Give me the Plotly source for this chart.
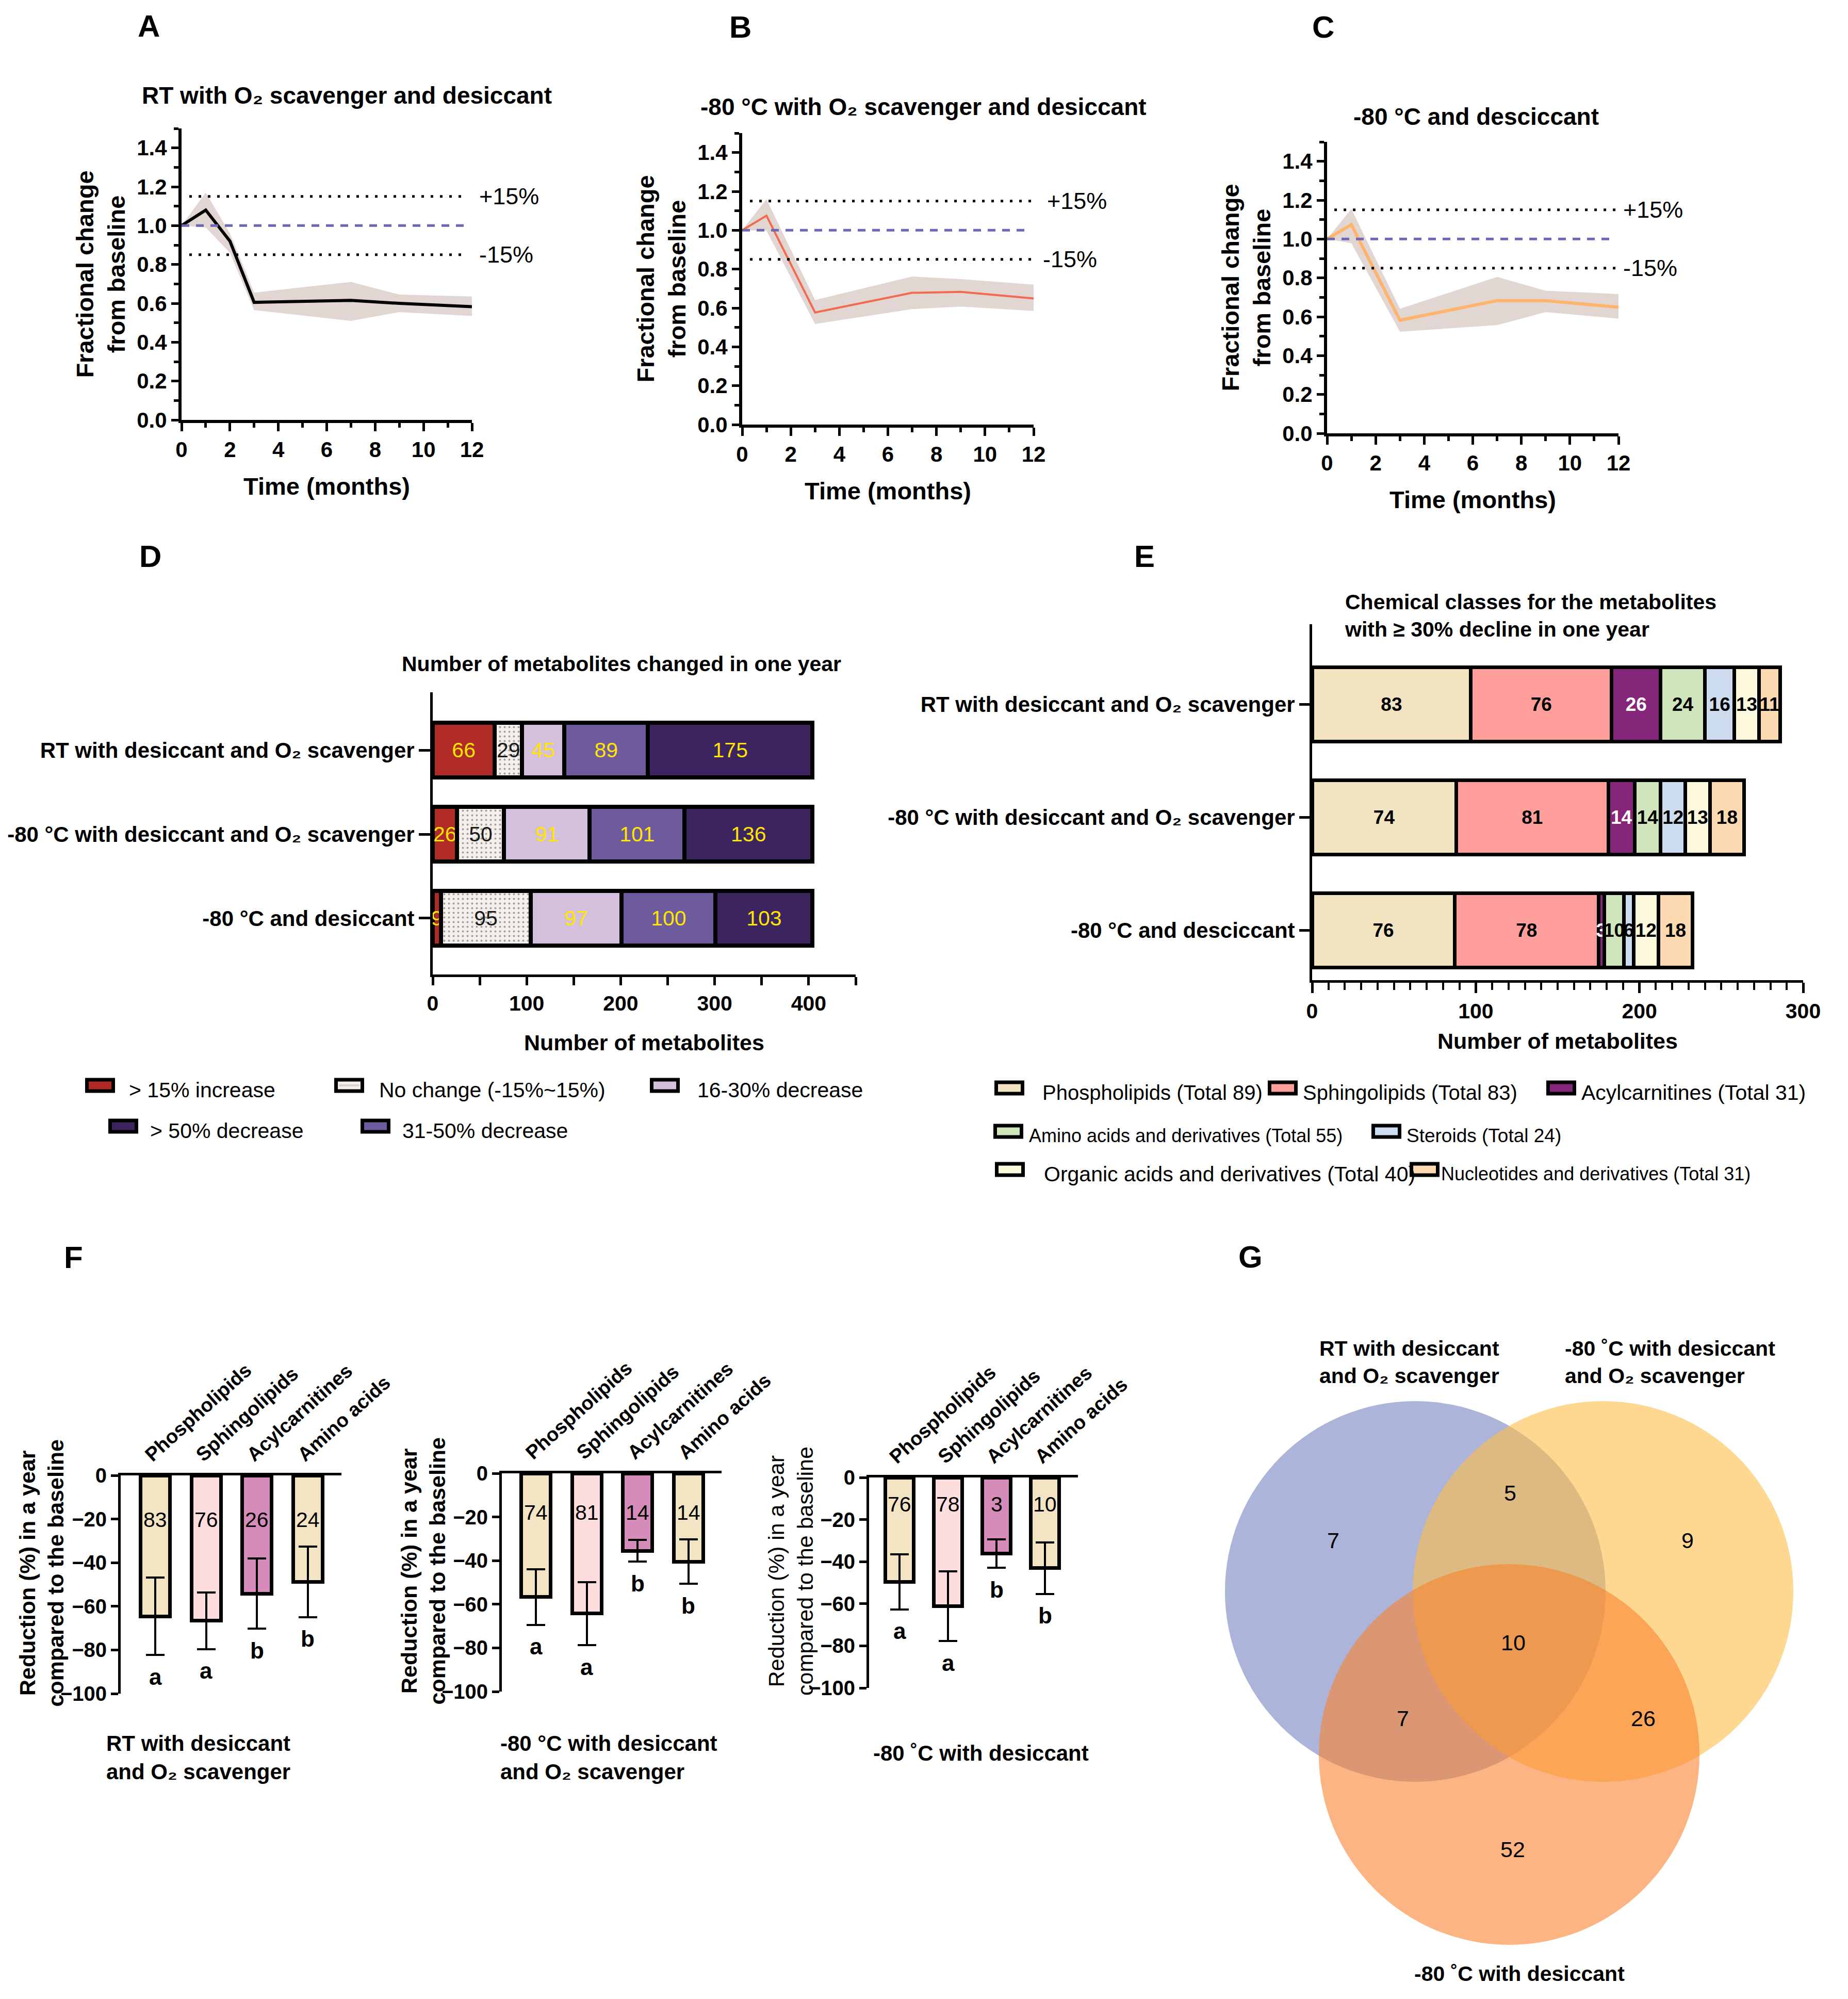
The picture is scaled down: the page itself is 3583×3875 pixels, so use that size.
import plotly.graph_objects as go

W, H = 3583, 3875
def X(px): return px / W
def Y(py): return 1 - py / H

SANS = "Liberation Sans, Arial, sans-serif"
def fnt(size, bold=False, color="black"):
    return dict(family=SANS, size=size, color=color, weight="bold" if bold else "normal")

# ---------------- A-C : fractional change from baseline ----------------
months_a = [0, 1, 2, 3, 7, 9, 12]
mean_a  = [1.00, 1.08, 0.92, 0.605, 0.615, 0.600, 0.583]
upper_a = [1.00, 1.17, 0.96, 0.655, 0.710, 0.645, 0.635]
lower_a = [1.00, 0.99, 0.86, 0.565, 0.510, 0.555, 0.535]

months_bc = [0, 1, 3, 7, 9, 12]
mean_b  = [1.00, 1.075, 0.577, 0.678, 0.683, 0.649]
upper_b = [1.00, 1.160, 0.641, 0.762, 0.749, 0.720]
lower_b = [1.00, 0.998, 0.518, 0.594, 0.607, 0.585]
mean_c  = [1.00, 1.074, 0.582, 0.683, 0.683, 0.649]
upper_c = [1.00, 1.155, 0.641, 0.805, 0.734, 0.717]
lower_c = [1.00, 0.978, 0.523, 0.557, 0.624, 0.590]
limit_values = [1.15, 0.85]
limit_labels = ["+15%", "-15%"]
baseline = 1.0

# ---------------- D : number of metabolites changed ----------------
conditions_d = ["RT with desiccant and O₂ scavenger",
                "-80 °C with desiccant and O₂ scavenger",
                "-80 °C and desiccant"]
change_groups = ["> 15% increase", "No change (-15%~15%)", "16-30% decrease",
                 "31-50% decrease", "> 50% decrease"]
d_increase = [66, 26, 9]
d_nochange = [29, 50, 95]
d_dec16_30 = [45, 91, 97]
d_dec31_50 = [89, 101, 100]
d_dec50 = [175, 136, 103]

# ---------------- E : chemical classes (>=30% decline) ----------------
conditions_e = ["RT with desiccant and O₂ scavenger",
                "-80 °C with desiccant and O₂ scavenger",
                "-80 °C and desciccant"]
classes_e = ["Phospholipids", "Sphingolipids", "Acylcarnitines", "Amino acids and derivatives",
             "Steroids", "Organic acids and derivatives", "Nucleotides and derivatives"]
class_totals = [89, 83, 31, 55, 24, 40, 31]
# printed counts per segment
e_phospho_n = [83, 74, 76]
e_sphingo_n = [76, 81, 78]
e_acyl_n = [26, 14, 3]
e_amino_n = [24, 14, 10]
e_steroid_n = [16, 12, 6]
e_organic_n = [13, 13, 12]
e_nucleo_n = [11, 18, 18]
# segment lengths as drawn against the axis
e_phospho_len = [97, 88, 87]
e_sphingo_len = [86, 93, 88]
e_acyl_len = [30, 16, 3.5]
e_amino_len = [27, 16, 12]
e_steroid_len = [18, 15, 6]
e_organic_len = [15, 15, 15]
e_nucleo_len = [13, 21, 21]

# ---------------- F : reduction per class ----------------
f_classes = ["Phospholipids", "Sphingolipids", "Acylcarnitines", "Amino acids"]
f_rt_mean = [-64.6, -66.6, -54.2, -48.8]
f_rt_sd = [17.7, 13.0, 16.1, 16.2]
f_rt_n = [83, 76, 26, 24]
f_rt_grp = ["a", "a", "b", "b"]
f_o2_mean = [-56.7, -64.3, -35.5, -40.5]
f_o2_sd = [12.8, 14.5, 5.0, 10.2]
f_o2_n = [74, 81, 14, 14]
f_o2_grp = ["a", "a", "b", "b"]
f_des_mean = [-49.6, -61.2, -36.2, -43.1]
f_des_sd = [13.1, 16.5, 6.7, 12.2]
f_des_n = [76, 78, 3, 10]
f_des_grp = ["a", "a", "b", "b"]

# ---------------- G : Venn counts ----------------
venn_sets = ["RT with desiccant<br>and O₂ scavenger",
             "-80 ˚C with desiccant<br>and O₂ scavenger",
             "-80 ˚C with desiccant"]
venn_only_rt, venn_only_o2, venn_only_des = 7, 9, 52
venn_rt_o2, venn_rt_des, venn_o2_des, venn_all = 5, 7, 26, 10

fig = go.Figure()
annotations = []
shapes = []
layout = {}
legends = {}

# ======================= A, B, C =======================
abc = [
    dict(sfx="", months=months_a, mean=mean_a, up=upper_a, lo=lower_a, color="black", lw=6,
         xd=(352, 915), yd=(249, 814), title="RT with O₂ scavenger and desiccant",
         tpos=(672, 185), dot=(0.32, 11.67), blue=(0.0, 11.67), labx=(12.25, 12.25),
         letter="A", lpos=(288, 50)),
    dict(sfx="2", months=months_bc, mean=mean_b, up=upper_b, lo=lower_b, color="#F26A50", lw=4,
         xd=(1439, 2004), yd=(258, 823), title="-80 °C with O₂ scavenger and desiccant",
         tpos=(1790, 207), dot=(0.32, 11.92), blue=(0.0, 11.67), labx=(12.5, 12.35),
         letter="B", lpos=(1435, 52)),
    dict(sfx="3", months=months_bc, mean=mean_c, up=upper_c, lo=lower_c, color="#FFB36B", lw=6,
         xd=(2573, 3138), yd=(275, 840), title="-80 °C and desciccant",
         tpos=(2862, 226), dot=(0.30, 12.0), blue=(0.0, 11.67), labx=(12.15, 12.15),
         letter="C", lpos=(2565, 52)),
]
for p in abc:
    xa, ya = "x" + p["sfx"], "y" + p["sfx"]
    fig.add_trace(go.Scatter(x=p["months"], y=p["up"], mode="lines", line=dict(width=0),
                             xaxis=xa, yaxis=ya, showlegend=False, hoverinfo="skip"))
    fig.add_trace(go.Scatter(x=p["months"], y=p["lo"], mode="lines", line=dict(width=0),
                             fill="tonexty", fillcolor="#E2D6D3",
                             xaxis=xa, yaxis=ya, showlegend=False, hoverinfo="skip"))
    fig.add_trace(go.Scatter(x=p["months"], y=p["mean"], mode="lines",
                             line=dict(color=p["color"], width=p["lw"]), cliponaxis=False,
                             xaxis=xa, yaxis=ya, showlegend=False))
    x0p, x1p = p["xd"]
    for v, lab, lx in zip(limit_values, limit_labels, p["labx"]):
        shapes.append(dict(type="line", xref=xa, yref=ya, x0=p["dot"][0], x1=p["dot"][1], y0=v, y1=v,
                           line=dict(color="black", width=5, dash="5px,13px")))
        annotations.append(dict(xref="paper", yref=ya, x=X(x0p + lx / 12 * (x1p - x0p)), y=v,
                                text=lab, showarrow=False, xanchor="left", yanchor="middle",
                                font=fnt(45)))
    shapes.append(dict(type="line", xref=xa, yref=ya, x0=p["blue"][0], x1=p["blue"][1],
                       y0=baseline, y1=baseline, line=dict(color="#6B68B5", width=5, dash="15px,13px")))
    layout["xaxis" + p["sfx"]] = dict(
        domain=[X(x0p), X(x1p)], range=[0, 12], anchor=ya, dtick=2, automargin=False,
        showgrid=False, zeroline=False, showline=True, linecolor="black", linewidth=6,
        ticks="outside", ticklen=16, tickwidth=5, tickcolor="black",
        minor=dict(dtick=1, ticks="outside", ticklen=9, tickwidth=5, tickcolor="black"),
        tickfont=fnt(42, True),
        title=dict(text="Time (months)", font=fnt(47, True), standoff=34))
    layout["yaxis" + p["sfx"]] = dict(
        domain=[Y(p["yd"][1]), Y(p["yd"][0])], range=[0, 1.5], anchor=xa, dtick=0.2,
        automargin=False, tickformat=".1f", showgrid=False, zeroline=False, showline=True,
        linecolor="black", linewidth=6, ticks="outside", ticklen=14, tickwidth=5, tickcolor="black",
        minor=dict(dtick=0.1, ticks="outside", ticklen=9, tickwidth=5, tickcolor="black"),
        tickfont=fnt(42, True),
        title=dict(text="Fractional change<br>from baseline", font=fnt(47, True), standoff=10))
    annotations.append(dict(xref="paper", yref="paper", x=X(p["tpos"][0]), y=Y(p["tpos"][1]),
                            text=p["title"], showarrow=False, font=fnt(46, True),
                            xanchor="center", yanchor="middle"))
    annotations.append(dict(xref="paper", yref="paper", x=X(p["lpos"][0]), y=Y(p["lpos"][1]),
                            text=p["letter"], showarrow=False, font=fnt(60, True),
                            xanchor="center", yanchor="middle"))

# ======================= legends helper =======================
leg_count = [0]
def add_legend_entry(name, group, col, text_px, text_py, swatch_cx, size=41, pattern=False):
    """Legend text is a real plotly legend; the swatch is drawn as a rectangle beside it."""
    leg_count[0] += 1
    key = "legend" if leg_count[0] == 1 else "legend%d" % leg_count[0]
    legends[key] = dict(x=X(text_px - 37), y=Y(text_py + 7), xref="paper", yref="paper",
                        xanchor="left", yanchor="middle", orientation="h",
                        bgcolor="rgba(0,0,0,0)", borderwidth=0, font=fnt(size), itemwidth=30)
    fig.add_trace(go.Scatter(x=[None], y=[None], mode="markers", name=name, legendgroup=group,
                             marker=dict(size=1, color="rgba(0,0,0,0)"), legend=key,
                             xaxis="x4", yaxis="y4", hoverinfo="skip"))
    sw, sh = 51, 22
    shapes.append(dict(type="rect", xref="paper", yref="paper",
                       x0=X(swatch_cx - sw / 2), x1=X(swatch_cx + sw / 2),
                       y0=Y(text_py + sh / 2), y1=Y(text_py - sh / 2),
                       fillcolor=col, line=dict(color="black", width=7), layer="above"))
    if pattern:
        shapes.append(dict(type="rect", xref="paper", yref="paper",
                           x0=X(swatch_cx - sw / 2 + 6), x1=X(swatch_cx + sw / 2 - 6),
                           y0=Y(text_py + 2), y1=Y(text_py - 2),
                           fillcolor="#D9D2CF", line=dict(width=0), layer="above"))

# ======================= D =======================
d_series = [
    (change_groups[0], d_increase, "#B02A26", "#FFE500", (247, 2104, 194)),
    (change_groups[1], d_nochange, "#F3EFEC", "#1a1a1a", (732, 2104, 677)),
    (change_groups[2], d_dec16_30, "#D4BFDD", "#FFE500", (1349, 2104, 1289)),
    (change_groups[3], d_dec31_50, "#6D5B9E", "#FFE500", (777, 2183, 728)),
    (change_groups[4], d_dec50, "#3C2460", "#FFE500", (288, 2183, 239)),
]
for name, vals, col, tcol, lpos in d_series:
    marker = dict(color=col, line=dict(color="black", width=8))
    is_nc = name.startswith("No change")
    if is_nc:
        marker["pattern"] = dict(shape=".", fgcolor="#A59C98", bgcolor=col, size=9, solidity=0.15)
    fig.add_trace(go.Bar(x=vals, y=conditions_d, orientation="h", name=name, marker=marker,
                         width=0.65, text=[str(v) for v in vals], textposition="inside",
                         insidetextanchor="middle", textangle=0, constraintext="none",
                         textfont=fnt(41, False, tcol), cliponaxis=False, legendgroup=name,
                         showlegend=False, xaxis="x4", yaxis="y4"))
    add_legend_entry(name, name, col, lpos[0], lpos[1], lpos[2], 41, pattern=is_nc)
layout["xaxis4"] = dict(domain=[X(839), X(1659)], range=[0, 450], anchor="y4", automargin=False,
                        tickvals=[0, 100, 200, 300, 400], showgrid=False, zeroline=False,
                        showline=True, linecolor="black", linewidth=5, ticks="outside",
                        ticklen=16, tickwidth=5, tickcolor="black",
                        minor=dict(dtick=50, ticks="outside", ticklen=16, tickwidth=5, tickcolor="black"),
                        tickfont=fnt(41, True),
                        title=dict(text="Number of metabolites", font=fnt(43, True), standoff=40))
layout["yaxis4"] = dict(domain=[Y(1889), Y(1342)], type="category", categoryorder="array",
                        categoryarray=conditions_d[::-1], range=[-0.67, 2.69], anchor="x4",
                        automargin=False, showgrid=False, zeroline=False, showline=True,
                        linecolor="black", linewidth=5, ticks="outside", ticklen=22, tickwidth=5,
                        tickcolor="black", tickfont=fnt(42, True))
annotations.append(dict(xref="paper", yref="paper", x=X(1205), y=Y(1287),
                        text="Number of metabolites changed in one year", showarrow=False,
                        font=fnt(41, True), xanchor="center", yanchor="middle"))
annotations.append(dict(xref="paper", yref="paper", x=X(291), y=Y(1078), text="D",
                        showarrow=False, font=fnt(60, True), xanchor="center", yanchor="middle"))

# ======================= E =======================
e_series = [
    (e_phospho_len, e_phospho_n, "#F2E3C1", "black", (2018, 2109, 1957), 40),
    (e_sphingo_len, e_sphingo_n, "#FF9E9B", "black", (2523, 2109, 2487), 40),
    (e_acyl_len, e_acyl_n, "#86267A", "white", (3063, 2109, 3027), 41),
    (e_amino_len, e_amino_n, "#CFE6BC", "black", (1992, 2193, 1955), 36),
    (e_steroid_len, e_steroid_n, "#CDDCEE", "black", (2724, 2193, 2688), 37),
    (e_organic_len, e_organic_n, "#FCF9DC", "black", (2021, 2267, 1958), 41),
    (e_nucleo_len, e_nucleo_n, "#FDD9B2", "black", (2791, 2267, 2762), 36),
]
for (lens, counts, col, tcol, lpos, lsize), cname, tot in zip(e_series, classes_e, class_totals):
    lname = "%s (Total %d)" % (cname, tot)
    fig.add_trace(go.Bar(x=lens, y=conditions_e, orientation="h", name=lname,
                         marker=dict(color=col, line=dict(color="black", width=7)),
                         width=0.66, text=[str(c) for c in counts], textposition="inside",
                         insidetextanchor="middle", textangle=0, constraintext="none",
                         textfont=fnt(37, True, tcol), cliponaxis=False, legendgroup=lname,
                         showlegend=False, xaxis="x5", yaxis="y5"))
    add_legend_entry(lname, lname, col, lpos[0], lpos[1], lpos[2], lsize)
layout["xaxis5"] = dict(domain=[X(2544), X(3496)], range=[0, 300], anchor="y5", dtick=100,
                        automargin=False, showgrid=False, zeroline=False, showline=True,
                        linecolor="black", linewidth=5, ticks="outside", ticklen=20, tickwidth=5,
                        tickcolor="black",
                        minor=dict(dtick=10, ticks="outside", ticklen=14, tickwidth=4, tickcolor="black"),
                        tickfont=fnt(41, True),
                        title=dict(text="Number of metabolites", font=fnt(43, True), standoff=22))
layout["yaxis5"] = dict(domain=[Y(1900), Y(1210)], type="category", categoryorder="array",
                        categoryarray=conditions_e[::-1], range=[-0.44, 2.71], anchor="x5",
                        automargin=False, showgrid=False, zeroline=False, showline=True,
                        linecolor="black", linewidth=5, ticks="outside", ticklen=20, tickwidth=5,
                        tickcolor="black", tickfont=fnt(42, True))
annotations.append(dict(xref="paper", yref="paper", x=X(2605), y=Y(1193),
                        text="Chemical classes for the metabolites<br>with ≥ 30% decline in one year",
                        showarrow=False, font=fnt(41, True), xanchor="left", yanchor="middle",
                        align="left"))
annotations.append(dict(xref="paper", yref="paper", x=X(2219), y=Y(1078), text="E",
                        showarrow=False, font=fnt(60, True), xanchor="center", yanchor="middle"))

# ======================= F =======================
f_colors = ["#F3E5C3", "#FDDDDE", "#D68CBB", "#F3E5C3"]
f_panels = [
    dict(sfx="6", mean=f_rt_mean, sd=f_rt_sd, n=f_rt_n, grp=f_rt_grp, xd=(234, 662),
         yd=(2860, 3283), xr=[-0.68, 3.66], nshift=-86, bold_title=True, ytx=80,
         sub="RT with desiccant<br>and O₂ scavenger", subpos=(204, 3407), subanchor="left"),
    dict(sfx="7", mean=f_o2_mean, sd=f_o2_sd, n=f_o2_n, grp=f_o2_grp, xd=(973, 1399),
         yd=(2856, 3279), xr=[-0.67, 3.65], nshift=-76, bold_title=True, ytx=820,
         sub="-80 °C with desiccant<br>and O₂ scavenger", subpos=(968, 3407), subanchor="left"),
    dict(sfx="8", mean=f_des_mean, sd=f_des_sd, n=f_des_n, grp=f_des_grp, xd=(1685, 2090),
         yd=(2864, 3272), xr=[-0.63, 3.68], nshift=-52, bold_title=False, ytx=1533,
         sub="-80 ˚C with desiccant", subpos=(1902, 3398), subanchor="center"),
]
for p in f_panels:
    xa, ya = "x" + p["sfx"], "y" + p["sfx"]
    fig.add_trace(go.Bar(x=f_classes, y=p["mean"], width=0.58,
                         marker=dict(color=f_colors, line=dict(color="black", width=7)),
                         error_y=dict(type="data", array=p["sd"], color="black", thickness=4, width=18),
                         xaxis=xa, yaxis=ya, showlegend=False))
    for i, (m, s, n, g) in enumerate(zip(p["mean"], p["sd"], p["n"], p["grp"])):
        annotations.append(dict(xref=xa, yref=ya, x=i, y=0, yshift=p["nshift"], text=str(n),
                                showarrow=False, font=fnt(41), xanchor="center", yanchor="middle"))
        annotations.append(dict(xref=xa, yref=ya, x=i, y=m - s, yshift=-42, text=g,
                                showarrow=False, font=fnt(44, True), xanchor="center", yanchor="middle"))
    layout["xaxis" + p["sfx"]] = dict(
        domain=[X(p["xd"][0]), X(p["xd"][1])], type="category", range=p["xr"], anchor=ya,
        automargin=False, side="top", showgrid=False, zeroline=False, showline=True,
        linecolor="black", linewidth=5, ticks="", tickangle=-42, ticklabelshift=-18,
        tickfont=fnt(38, True))
    layout["yaxis" + p["sfx"]] = dict(
        domain=[Y(p["yd"][1]), Y(p["yd"][0])], range=[-100, 0], anchor=xa, dtick=20,
        automargin=False, showgrid=False, zeroline=False, showline=True, linecolor="black",
        linewidth=5, ticks="outside", ticklen=14, tickwidth=5, tickcolor="black",
        tickfont=fnt(40, True))
    annotations.append(dict(xref="paper", yref="paper", x=X(p["ytx"]),
                            y=Y((p["yd"][0] + p["yd"][1]) / 2 - 22),
                            text="Reduction (%) in a year<br>compared to the baseline",
                            textangle=-90, showarrow=False, font=fnt(43, p["bold_title"]),
                            xanchor="center", yanchor="middle"))
    annotations.append(dict(xref="paper", yref="paper", x=X(p["subpos"][0]), y=Y(p["subpos"][1]),
                            text=p["sub"], showarrow=False, font=fnt(42, True),
                            xanchor=p["subanchor"], yanchor="middle", align="left"))
annotations.append(dict(xref="paper", yref="paper", x=X(142), y=Y(2437), text="F",
                        showarrow=False, font=fnt(60, True), xanchor="center", yanchor="middle"))

# ======================= G (Venn) =======================
layout["xaxis9"] = dict(domain=[X(2300), 1], range=[0, 1283], anchor="y9", visible=False,
                        automargin=False)
layout["yaxis9"] = dict(domain=[0, Y(2380)], range=[1495, 0], anchor="x9", visible=False,
                        automargin=False)
venn_circles = [((444, 705), "#7582C0"), ((808, 705), "#FDBE48"), ((626, 1021), "#FA842F")]
R = 369
for (cx, cy), col in venn_circles:
    shapes.append(dict(type="circle", xref="x9", yref="y9", x0=cx - R, x1=cx + R, y0=cy - R, y1=cy + R,
                       fillcolor=col, opacity=0.6, line=dict(width=0), layer="below"))
venn_counts = [venn_only_rt, venn_rt_o2, venn_only_o2, venn_all, venn_rt_des, venn_o2_des, venn_only_des]
venn_spots = [(285, 606), (628, 514), (972, 606), (634, 804), (420, 951), (886, 951), (633, 1205)]
for c, (vx, vy) in zip(venn_counts, venn_spots):
    annotations.append(dict(xref="x9", yref="y9", x=vx, y=vy, text=str(c), showarrow=False,
                            font=fnt(43), xanchor="center", yanchor="middle"))
for txt, (vx, vy), anc in zip(venn_sets, [(256, 260), (732, 260), (646, 1446)], ["left", "left", "center"]):
    annotations.append(dict(xref="x9", yref="y9", x=vx, y=vy, text=txt, showarrow=False,
                            font=fnt(41, True), xanchor=anc, yanchor="middle", align="left"))
annotations.append(dict(xref="paper", yref="paper", x=X(2424), y=Y(2436), text="G",
                        showarrow=False, font=fnt(60, True), xanchor="center", yanchor="middle"))

fig.update_layout(
    template="none",
    width=W, height=H, autosize=False, margin=dict(l=0, r=0, t=0, b=0, pad=0),
    paper_bgcolor="white", plot_bgcolor="rgba(0,0,0,0)",
    font=fnt(40), barmode="stack", showlegend=True,
    annotations=annotations, shapes=shapes, **layout, **legends)

fig.write_html("out.html", include_plotlyjs=True, config={"displayModeBar": False},
               post_script="document.body.style.margin='0';document.body.style.overflow='hidden';")
